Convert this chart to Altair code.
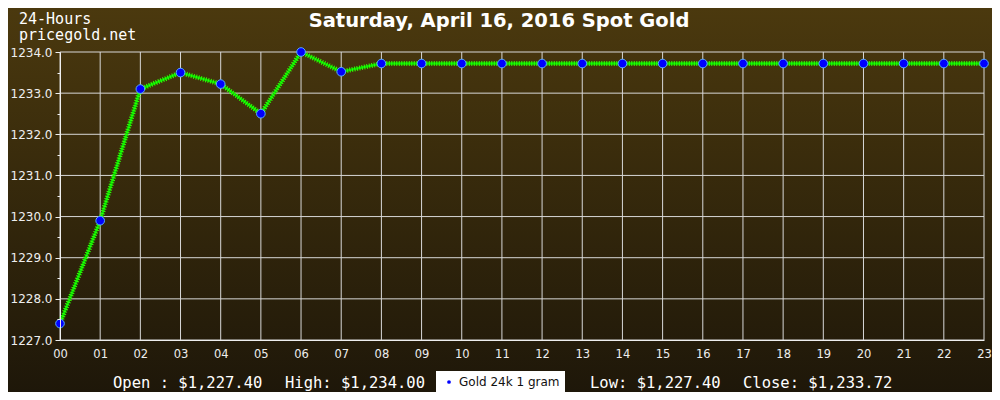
import altair as alt
import pandas as pd

hours = [0, 1, 2, 3, 4, 5, 6, 7, 8, 9, 10, 11, 12, 13, 14, 15, 16, 17, 18, 19, 20, 21, 22, 23]
prices = [1227.40, 1229.90, 1233.10, 1233.50, 1233.22, 1232.50, 1234.00, 1233.52,
          1233.72, 1233.72, 1233.72, 1233.72, 1233.72, 1233.72, 1233.72, 1233.72,
          1233.72, 1233.72, 1233.72, 1233.72, 1233.72, 1233.72, 1233.72, 1233.72]
series_name = "Gold 24k 1 gram"
y_grid = [1227, 1228, 1229, 1230, 1231, 1232, 1233, 1234]
y_ticks = [1227, 1227.5, 1228, 1228.5, 1229, 1229.5, 1230, 1230.5, 1231, 1231.5,
           1232, 1232.5, 1233, 1233.5, 1234]
title_text = "Saturday, April 16, 2016 Spot Gold"
corner_lines = ["24-Hours", "pricegold.net"]
stats = ["Open : $1,227.40", "High: $1,234.00", "Low: $1,227.40", "Close: $1,233.72"]

W, H = 924, 288
PL, PT, PR, PB = 52, 44, 8, 52

df = pd.DataFrame({"hour": hours, "price": prices, "series": series_name})

xs = alt.Scale(domain=[0, 23], nice=False)
ys = alt.Scale(domain=[1227, 1234], nice=False, zero=False)

x_axis = alt.Axis(values=hours, format="02d", title=None, grid=False, ticks=False,
                  labelFlush=False, labelOverlap=False,
                  labelColor="#eeeeee", labelFont="DejaVu Sans", labelFontSize=11.5,
                  labelPadding=8, domainColor="#eeeeee", zindex=1)
y_axis = alt.Axis(values=y_ticks, title=None, grid=False, labelFlush=False,
                  labelOverlap=False,
                  labelExpr="datum.value % 1 === 0 ? format(datum.value, '.1f') : ''",
                  tickSize={"condition": {"test": "datum.value % 1 === 0", "value": 5},
                            "value": 3},
                  tickColor="#eeeeee", labelColor="#eeeeee", labelFont="DejaVu Sans",
                  labelFontSize=12, labelPadding=3, domainColor="#eeeeee", zindex=1)

bg = alt.Chart(pd.DataFrame({"a": [0]})).mark_rect(
    fill=alt.Gradient(gradient="linear",
                      stops=[alt.GradientStop(color="#4b390e", offset=0),
                             alt.GradientStop(color="#1e1709", offset=1)],
                      x1=0, x2=0, y1=0, y2=1)
).encode(x=alt.value(-PL), x2=alt.value(W + PR), y=alt.value(-PT), y2=alt.value(H + PB))

vgrid = alt.Chart(pd.DataFrame({"hour": hours})).mark_rule(color="#d8d8d8", strokeWidth=1).encode(
    x=alt.X("hour:Q", scale=xs, axis=x_axis))
hgrid = alt.Chart(pd.DataFrame({"price": y_grid})).mark_rule(color="#d8d8d8", strokeWidth=1).encode(
    y=alt.Y("price:Q", scale=ys, axis=y_axis))

line_base = alt.Chart(df).encode(
    x=alt.X("hour:Q", scale=xs, axis=x_axis),
    y=alt.Y("price:Q", scale=ys, axis=y_axis),
)

line1 = line_base.mark_line(color="#00e000", strokeWidth=2.5)
line2 = line_base.mark_line(color="#33ff00", strokeWidth=5, strokeDash=[1, 1.5])

pts = line_base.mark_point(filled=True, shape="circle", size=75, stroke="#55aaff",
                           strokeWidth=1, opacity=1).encode(
    color=alt.Color("series:N", scale=alt.Scale(range=["#0000ff"]),
                    legend=alt.Legend(orient="none", legendX=376, legendY=319, title=None,
                                      fillColor="white", padding=5, symbolSize=14,
                                      symbolStrokeWidth=0, labelFont="DejaVu Sans",
                                      labelFontSize=12, labelColor="#111111",
                                      labelLimit=200, symbolOffset=2, rowPadding=0)))

title = alt.Chart(pd.DataFrame({"t": [title_text]})).mark_text(
    font="DejaVu Sans", fontWeight="bold", fontSize=19.5, color="white", align="center",
    baseline="alphabetic").encode(text="t:N", x=alt.value(439), y=alt.value(-25))

corner_layers = [
    alt.Chart(pd.DataFrame({"t": [s]})).mark_text(
        font="DejaVu Sans Mono", fontSize=15, color="white", align="left",
        baseline="alphabetic").encode(text="t:N", x=alt.value(-41), y=alt.value(yv))
    for s, yv in zip(corner_lines, [-28, -12])
]

stat_layers = [
    alt.Chart(pd.DataFrame({"t": [s]})).mark_text(
        font="DejaVu Sans Mono", fontSize=15.5, color="white", align="left",
        baseline="alphabetic").encode(text="t:N", x=alt.value(xv), y=alt.value(336))
    for s, xv in zip(stats, [53, 225, 530, 683])
]

chart = alt.layer(bg, vgrid, hgrid, line1, line2, pts, title, *corner_layers,
                  *stat_layers).properties(
    width=W, height=H,
    padding={"left": PL, "top": PT, "right": PR, "bottom": PB},
    autosize=alt.AutoSizeParams(type="none"),
    background="#1e1709",
).configure_view(stroke="#d8d8d8", strokeWidth=1)

chart.save("out.html", embed_options={"renderer": "svg", "actions": False})
